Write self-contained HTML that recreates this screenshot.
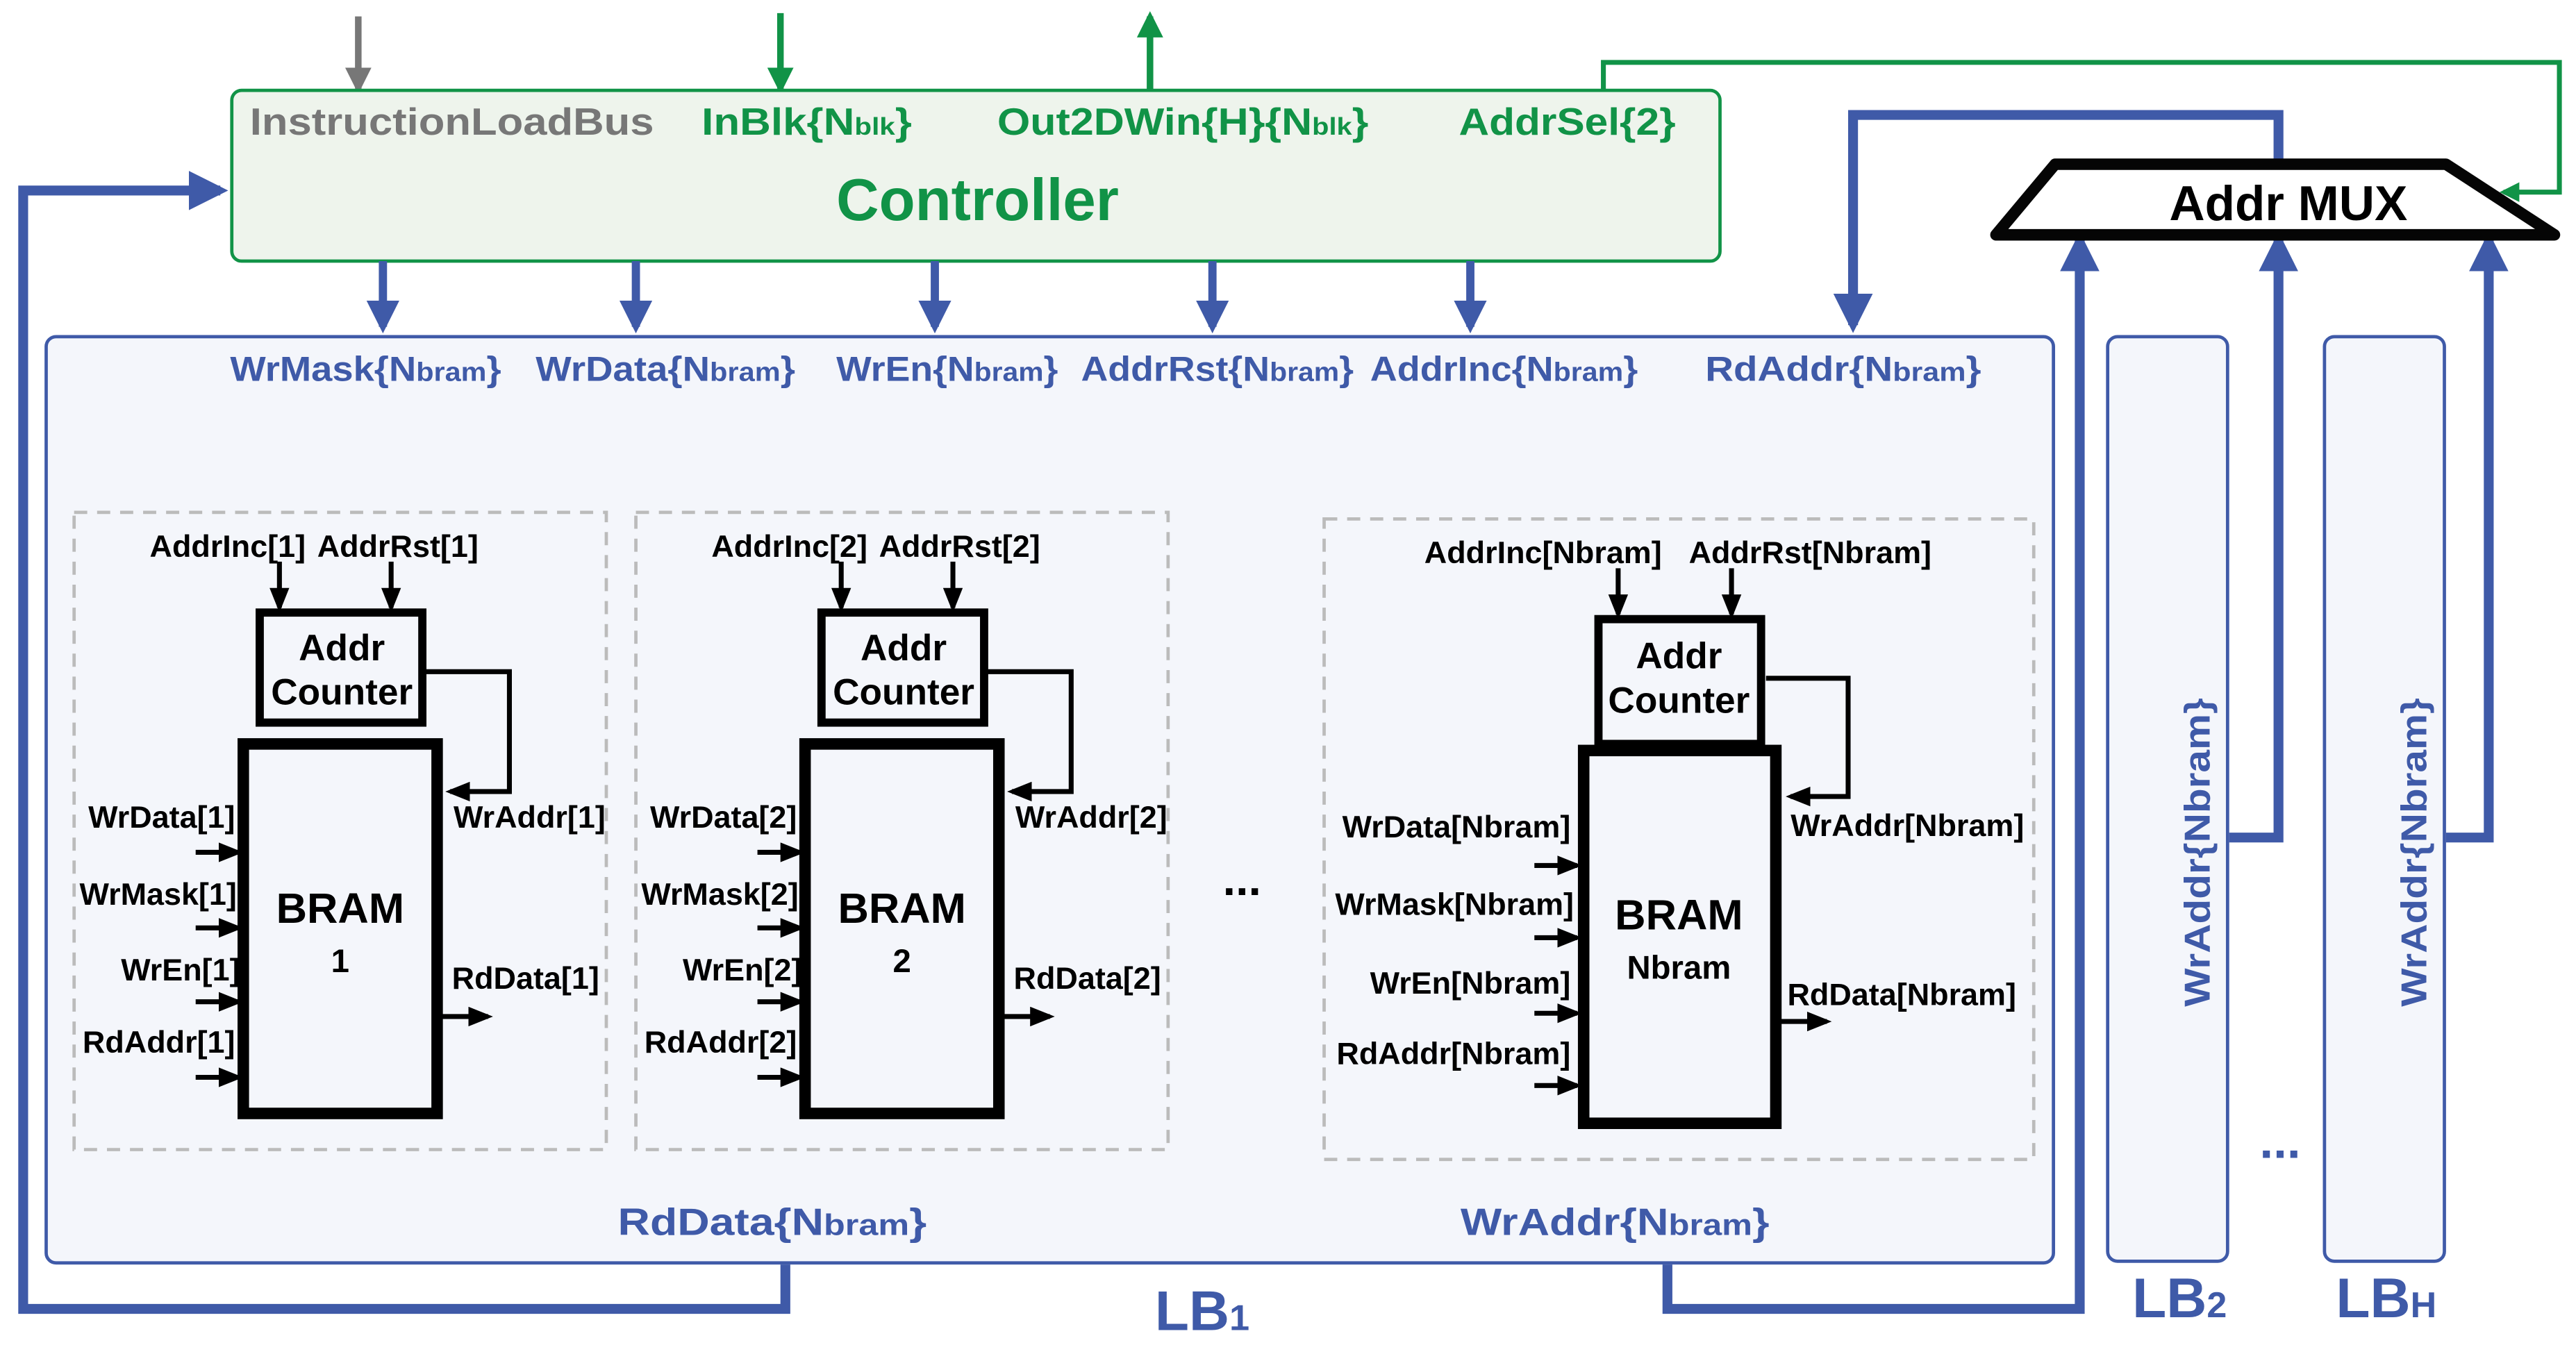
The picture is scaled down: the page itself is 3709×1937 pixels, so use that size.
<!DOCTYPE html>
<html><head><meta charset="utf-8"><style>
html,body{margin:0;padding:0;background:#fff;}
svg{display:block;}
text{font-family:"Liberation Sans",sans-serif;font-weight:bold;}
</style></head><body>
<svg width="3709" height="1937" viewBox="0 0 1568 819" xmlns="http://www.w3.org/2000/svg">
<defs>
<marker id="ab" markerWidth="4" markerHeight="4" refX="3.2" refY="2" orient="auto" markerUnits="strokeWidth"><path d="M0,0 L4,2 L0,4 Z" fill="#3f5aa8"/></marker>
<marker id="ag" markerWidth="4" markerHeight="4" refX="3.2" refY="2" orient="auto" markerUnits="strokeWidth"><path d="M0,0 L4,2 L0,4 Z" fill="#119347"/></marker>
<marker id="agr" markerWidth="4" markerHeight="4" refX="3.2" refY="2" orient="auto" markerUnits="strokeWidth"><path d="M0,0 L4,2 L0,4 Z" fill="#777"/></marker>
<marker id="ak" markerWidth="5" markerHeight="4" refX="4" refY="2" orient="auto" markerUnits="strokeWidth"><path d="M0,0 L5,2 L0,4 Z" fill="#000"/></marker>
</defs>
<rect width="1568" height="819" fill="#fff"/>

<line x1="218" y1="10" x2="218" y2="54" stroke="#777" stroke-width="4" marker-end="url(#agr)"/>
<line x1="475" y1="8" x2="475" y2="54" stroke="#119347" stroke-width="4" marker-end="url(#ag)"/>
<line x1="700" y1="55" x2="700" y2="10" stroke="#119347" stroke-width="4" marker-end="url(#ag)"/>
<polyline points="976,55 976,38 1558,38 1558,117 1524,117" fill="none" stroke="#119347" stroke-width="3" marker-end="url(#ag)"/>

<rect x="28" y="205" width="1222" height="564" rx="6" fill="#f4f6fb" stroke="#3f5aa8" stroke-width="2"/>
<rect x="1283" y="205" width="73" height="563" rx="6" fill="#f4f6fb" stroke="#3f5aa8" stroke-width="2"/>
<rect x="1415" y="205" width="73" height="563" rx="6" fill="#f4f6fb" stroke="#3f5aa8" stroke-width="2"/>

<rect x="141" y="55" width="906" height="104" rx="6" fill="#eef4ec" stroke="#119347" stroke-width="2"/>
<text x="152" y="82" font-size="23" fill="#777" textLength="246" lengthAdjust="spacingAndGlyphs">InstructionLoadBus</text>
<text x="427" y="82" font-size="23" fill="#119347" textLength="128" lengthAdjust="spacingAndGlyphs">InBlk{N<tspan font-size="15">blk</tspan>}</text>
<text x="607" y="82" font-size="23" fill="#119347" textLength="226" lengthAdjust="spacingAndGlyphs">Out2DWin{H}{N<tspan font-size="15">blk</tspan>}</text>
<text x="888" y="82" font-size="23" fill="#119347" textLength="132" lengthAdjust="spacingAndGlyphs">AddrSel{2}</text>
<text x="595" y="134" font-size="36" fill="#119347" text-anchor="middle">Controller</text>

<g stroke="#3f5aa8" stroke-width="5" marker-end="url(#ab)">
<line x1="233" y1="159" x2="233" y2="199"/>
<line x1="387" y1="159" x2="387" y2="199"/>
<line x1="569" y1="159" x2="569" y2="199"/>
<line x1="738" y1="159" x2="738" y2="199"/>
<line x1="895" y1="159" x2="895" y2="199"/>
</g>

<g fill="none" stroke="#3f5aa8" stroke-width="6">
<polyline points="478,770 478,797 14,797 14,116 134,116" marker-end="url(#ab)"/>
<polyline points="1387,100 1387,70 1128,70 1128,198" marker-end="url(#ab)"/>
<polyline points="1015,770 1015,797 1266,797 1266,146" marker-end="url(#ab)"/>
<polyline points="1357,510 1387,510 1387,146" marker-end="url(#ab)"/>
<polyline points="1489,510 1515,510 1515,146" marker-end="url(#ab)"/>
</g>

<polygon points="1251,100 1489,100 1555,143 1215,143" fill="#fff" stroke="#050505" stroke-width="7" stroke-linejoin="round"/>
<text x="1393" y="134" font-size="30" fill="#000" text-anchor="middle" textLength="145" lengthAdjust="spacingAndGlyphs">Addr MUX</text>

<g font-size="21" fill="#3f5aa8">
<text x="140" y="232" textLength="165" lengthAdjust="spacingAndGlyphs">WrMask{N<tspan font-size="16">bram</tspan>}</text>
<text x="326" y="232" textLength="158" lengthAdjust="spacingAndGlyphs">WrData{N<tspan font-size="16">bram</tspan>}</text>
<text x="509" y="232" textLength="135" lengthAdjust="spacingAndGlyphs">WrEn{N<tspan font-size="16">bram</tspan>}</text>
<text x="658" y="232" textLength="166" lengthAdjust="spacingAndGlyphs">AddrRst{N<tspan font-size="16">bram</tspan>}</text>
<text x="834" y="232" textLength="163" lengthAdjust="spacingAndGlyphs">AddrInc{N<tspan font-size="16">bram</tspan>}</text>
<text x="1038" y="232" textLength="168" lengthAdjust="spacingAndGlyphs">RdAddr{N<tspan font-size="16">bram</tspan>}</text>
<text x="376" y="752" font-size="23" textLength="188" lengthAdjust="spacingAndGlyphs">RdData{N<tspan font-size="18">bram</tspan>}</text>
<text x="889" y="752" font-size="23" textLength="188" lengthAdjust="spacingAndGlyphs">WrAddr{N<tspan font-size="18">bram</tspan>}</text>
<text x="703" y="810" font-size="34">LB<tspan font-size="22">1</tspan></text>
<text x="1298" y="802" font-size="34">LB<tspan font-size="22">2</tspan></text>
<text x="1422" y="802" font-size="34">LB<tspan font-size="22">H</tspan></text>
<text x="1388" y="705" font-size="30" text-anchor="middle">...</text>
<text transform="translate(1345,519) rotate(-90)" font-size="22" text-anchor="middle" textLength="188" lengthAdjust="spacingAndGlyphs">WrAddr{Nbram}</text>
<text transform="translate(1477,519) rotate(-90)" font-size="22" text-anchor="middle" textLength="188" lengthAdjust="spacingAndGlyphs">WrAddr{Nbram}</text>
</g>

<g>
<rect x="45" y="312" width="324" height="388" fill="none" stroke="#bbb" stroke-width="2" stroke-dasharray="8,6"/>
<g font-size="19" fill="#000">
<text x="91" y="339">AddrInc[1]</text>
<text x="193" y="339">AddrRst[1]</text>
<text x="143" y="504" text-anchor="end">WrData[1]</text>
<text x="144" y="551" text-anchor="end">WrMask[1]</text>
<text x="146" y="597" text-anchor="end">WrEn[1]</text>
<text x="143" y="641" text-anchor="end">RdAddr[1]</text>
<text x="276" y="504">WrAddr[1]</text>
<text x="275" y="602">RdData[1]</text>
</g>
<g stroke="#000" stroke-width="3" fill="none">
<line x1="170" y1="342" x2="170" y2="370" marker-end="url(#ak)"/>
<line x1="238" y1="342" x2="238" y2="370" marker-end="url(#ak)"/>
<line x1="119" y1="519" x2="145" y2="519" marker-end="url(#ak)"/>
<line x1="119" y1="565" x2="145" y2="565" marker-end="url(#ak)"/>
<line x1="119" y1="610" x2="145" y2="610" marker-end="url(#ak)"/>
<line x1="119" y1="656" x2="145" y2="656" marker-end="url(#ak)"/>
<polyline points="259,409 310,409 310,482 274,482" marker-end="url(#ak)"/>
<line x1="268" y1="619" x2="297" y2="619" marker-end="url(#ak)"/>
</g>
<rect x="158" y="373" width="99" height="67" fill="#f4f6fb" stroke="#000" stroke-width="5"/>
<text x="208" y="402" font-size="22.5" text-anchor="middle">Addr</text>
<text x="208" y="429" font-size="22.5" text-anchor="middle">Counter</text>
<rect x="148" y="453" width="118" height="225" fill="#f4f6fb" stroke="#000" stroke-width="7"/>
<text x="207" y="562" font-size="26" text-anchor="middle">BRAM</text>
<text x="207" y="592" font-size="20" text-anchor="middle">1</text>
</g>

<g transform="translate(342,0)">
<rect x="45" y="312" width="324" height="388" fill="none" stroke="#bbb" stroke-width="2" stroke-dasharray="8,6"/>
<g font-size="19" fill="#000">
<text x="91" y="339">AddrInc[2]</text>
<text x="193" y="339">AddrRst[2]</text>
<text x="143" y="504" text-anchor="end">WrData[2]</text>
<text x="144" y="551" text-anchor="end">WrMask[2]</text>
<text x="146" y="597" text-anchor="end">WrEn[2]</text>
<text x="143" y="641" text-anchor="end">RdAddr[2]</text>
<text x="276" y="504">WrAddr[2]</text>
<text x="275" y="602">RdData[2]</text>
</g>
<g stroke="#000" stroke-width="3" fill="none">
<line x1="170" y1="342" x2="170" y2="370" marker-end="url(#ak)"/>
<line x1="238" y1="342" x2="238" y2="370" marker-end="url(#ak)"/>
<line x1="119" y1="519" x2="145" y2="519" marker-end="url(#ak)"/>
<line x1="119" y1="565" x2="145" y2="565" marker-end="url(#ak)"/>
<line x1="119" y1="610" x2="145" y2="610" marker-end="url(#ak)"/>
<line x1="119" y1="656" x2="145" y2="656" marker-end="url(#ak)"/>
<polyline points="259,409 310,409 310,482 274,482" marker-end="url(#ak)"/>
<line x1="268" y1="619" x2="297" y2="619" marker-end="url(#ak)"/>
</g>
<rect x="158" y="373" width="99" height="67" fill="#f4f6fb" stroke="#000" stroke-width="5"/>
<text x="208" y="402" font-size="22.5" text-anchor="middle">Addr</text>
<text x="208" y="429" font-size="22.5" text-anchor="middle">Counter</text>
<rect x="148" y="453" width="118" height="225" fill="#f4f6fb" stroke="#000" stroke-width="7"/>
<text x="207" y="562" font-size="26" text-anchor="middle">BRAM</text>
<text x="207" y="592" font-size="20" text-anchor="middle">2</text>
</g>

<text x="756" y="545" font-size="28" text-anchor="middle">...</text>

<rect x="806" y="316" width="432" height="390" fill="none" stroke="#bbb" stroke-width="2" stroke-dasharray="8,6"/>
<g font-size="19" fill="#000">
<text x="867" y="343">AddrInc[Nbram]</text>
<text x="1028" y="343">AddrRst[Nbram]</text>
<text x="956" y="510" text-anchor="end">WrData[Nbram]</text>
<text x="958" y="557" text-anchor="end">WrMask[Nbram]</text>
<text x="956" y="605" text-anchor="end">WrEn[Nbram]</text>
<text x="956" y="648" text-anchor="end">RdAddr[Nbram]</text>
<text x="1090" y="509">WrAddr[Nbram]</text>
<text x="1088" y="612">RdData[Nbram]</text>
</g>
<g stroke="#000" stroke-width="3" fill="none">
<line x1="985" y1="346" x2="985" y2="374" marker-end="url(#ak)"/>
<line x1="1054" y1="346" x2="1054" y2="374" marker-end="url(#ak)"/>
<line x1="934" y1="527" x2="960" y2="527" marker-end="url(#ak)"/>
<line x1="934" y1="571" x2="960" y2="571" marker-end="url(#ak)"/>
<line x1="934" y1="617" x2="960" y2="617" marker-end="url(#ak)"/>
<line x1="934" y1="661" x2="960" y2="661" marker-end="url(#ak)"/>
<polyline points="1075,413 1125,413 1125,485 1090,485" marker-end="url(#ak)"/>
<line x1="1083" y1="622" x2="1112" y2="622" marker-end="url(#ak)"/>
</g>
<rect x="973" y="377" width="99" height="76" fill="#f4f6fb" stroke="#000" stroke-width="5"/>
<text x="1022" y="407" font-size="22.5" text-anchor="middle">Addr</text>
<text x="1022" y="434" font-size="22.5" text-anchor="middle">Counter</text>
<rect x="964" y="457" width="117" height="227" fill="#f4f6fb" stroke="#000" stroke-width="7"/>
<text x="1022" y="566" font-size="26" text-anchor="middle">BRAM</text>
<text x="1022" y="596" font-size="20" text-anchor="middle">Nbram</text>
</svg>
</body></html>
